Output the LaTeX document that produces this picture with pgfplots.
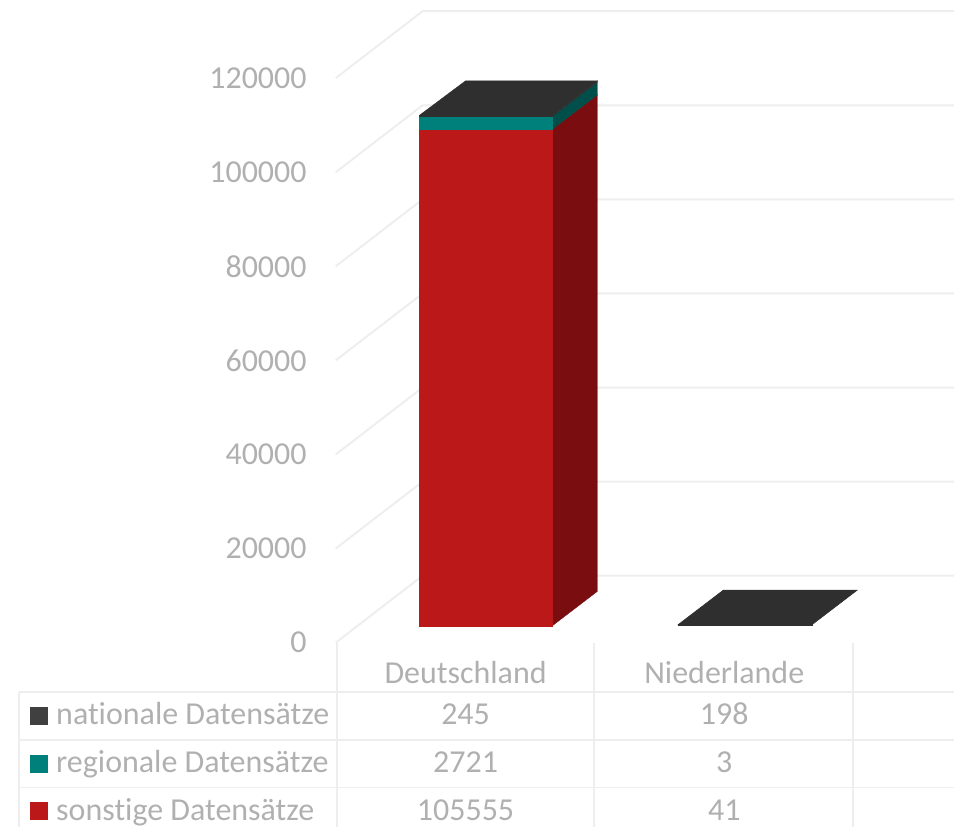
\documentclass[border=0pt]{standalone}
\usepackage{fontspec}
\setmainfont[Ligatures=NoCommon]{Carlito}
\usepackage{pgfplots}
\pgfplotsset{compat=1.18}
\definecolor{txt}{HTML}{B0B0B0}
\definecolor{gridc}{HTML}{EEEEEE}
\definecolor{dark}{HTML}{2F2F2F}
\definecolor{darkkey}{HTML}{404040}
\definecolor{teal1}{HTML}{00807A}
\definecolor{teal2}{HTML}{004F4B}
\definecolor{red1}{HTML}{BB181A}
\definecolor{red2}{HTML}{7A0D10}
\newcommand{\lblfont}{\fontsize{32}{36}\selectfont}
\tikzset{
  lbl/.style={font=\lblfont, text=txt, inner sep=0pt, anchor=base},
  grd/.style={draw=gridc, line width=2pt},
  face/.style={fill=#1, draw=#1, line width=0.3pt},
}
\begin{document}
\begin{tikzpicture}
% axis spans the whole page: x in pixels, y in data units (0 = foot of the bars)
\begin{axis}[
  scale only axis, width=955pt, height=828pt,
  xmin=0, xmax=955, ymin=-42800, ymax=132996,
  axis line style={draw=none}, major tick length=0pt,
  xtick=\empty,
  ytick={0,20000,40000,60000,80000,100000,120000},
  yticklabels={0,20000,40000,60000,80000,100000,120000},
  scaled y ticks=false,
  clip=false,
  yticklabel style={font=\lblfont, text=txt, anchor=east, inner sep=0pt, xshift=307pt, yshift=-17pt},
]
% walls
\addplot[grd] coordinates {(336,-3609)(423,10616)(955,10616)};
\addplot[grd] coordinates {(336,16391)(423,30616)(955,30616)};
\addplot[grd] coordinates {(336,36391)(423,50616)(955,50616)};
\addplot[grd] coordinates {(336,56391)(423,70616)(955,70616)};
\addplot[grd] coordinates {(336,76391)(423,90616)(955,90616)};
\addplot[grd] coordinates {(336,96391)(423,110616)(955,110616)};
\addplot[grd] coordinates {(336,116391)(423,130616)(955,130616)};
% data table lines
\addplot[grd] coordinates {(19,-14013)(955,-14013)};
\addplot[grd] coordinates {(19,-24204)(955,-24204)};
\addplot[grd] coordinates {(19,-34395)(955,-34395)};
\addplot[grd] coordinates {(19,-14013)(19,-42800)};
\addplot[grd] coordinates {(337,-3609)(337,-42800)};
\addplot[grd] coordinates {(595,-3609)(595,-42800)};
\addplot[grd] coordinates {(854,-3609)(854,-42800)};
% Deutschland
\addplot[face=red2] coordinates {(553,0)(598,7300)(598,112855)(553,105555)} --cycle;
\addplot[face=teal2] coordinates {(553,105555)(598,112855)(598,115576)(553,108276)} --cycle;
\addplot[face=dark] coordinates {(553,108276)(598,115576)(598,115821)(553,108521)} --cycle;
\addplot[face=red1] coordinates {(420,0)(553,0)(553,105555)(420,105555)} --cycle;
\addplot[face=teal1] coordinates {(420,105555)(553,105555)(553,108276)(420,108276)} --cycle;
\addplot[face=dark] coordinates {(420,108276)(553,108276)(553,108521)(420,108521)} --cycle;
\addplot[face=dark] coordinates {(420,108521)(553,108521)(598,115821)(466,115821)} --cycle;
% Niederlande
\addplot[fill=red1, draw=none] coordinates {(679,0)(813,0)(813,41)(679,41)} --cycle;
\addplot[fill=teal1, draw=none] coordinates {(679,41)(813,41)(813,44)(679,44)} --cycle;
\addplot[face=dark] coordinates {(679,44)(813,44)(813,242)(679,242)} --cycle;
\addplot[fill=dark, draw=dark, line width=0.6pt] coordinates {(679,242)(813,242)(858,7542)(724,7542)} --cycle;
% legend keys
\addplot[fill=darkkey, draw=none] coordinates {(30,-17197)(48,-17197)(48,-21019)(30,-21019)} --cycle;
\addplot[fill=teal1, draw=none] coordinates {(30,-27389)(48,-27389)(48,-31210)(30,-31210)} --cycle;
\addplot[fill=red1, draw=none] coordinates {(30,-37580)(48,-37580)(48,-41401)(30,-41401)} --cycle;
% table text
\node[lbl] at (axis cs:466,-12314) {Deutschland};
\node[lbl] at (axis cs:725,-12314) {Niederlande};
\node[lbl, anchor=base west] at (axis cs:56,-21019) {nationale Datensätze};
\node[lbl, anchor=base west] at (axis cs:56,-31210) {regionale Datensätze};
\node[lbl, anchor=base west] at (axis cs:56,-41401) {sonstige Datensätze};
\node[lbl] at (axis cs:466,-21019) {245};
\node[lbl] at (axis cs:725,-21019) {198};
\node[lbl] at (axis cs:466,-31210) {2721};
\node[lbl] at (axis cs:725,-31210) {3};
\node[lbl] at (axis cs:466,-41401) {105555};
\node[lbl] at (axis cs:725,-41401) {41};
\end{axis}
\end{tikzpicture}
\end{document}
